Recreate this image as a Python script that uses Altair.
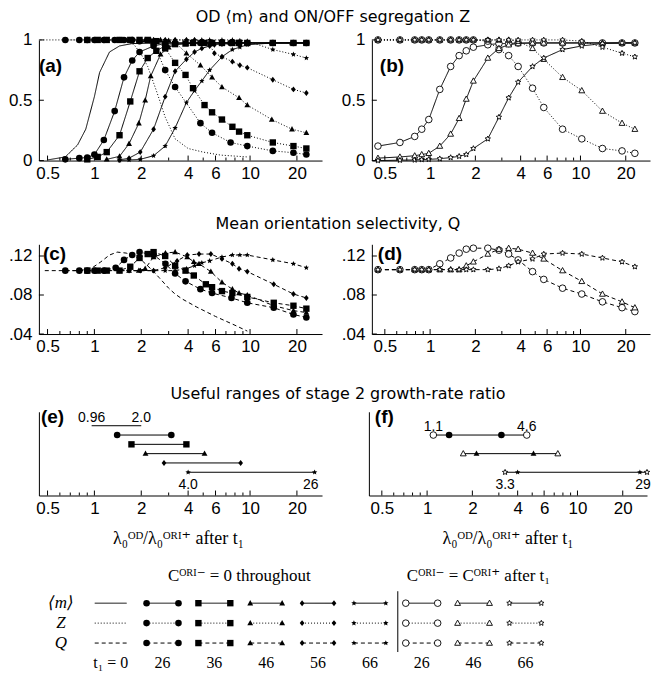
import math
import altair as alt
import pandas as pd

# ---------------- values ----------------
T1_MARKED = ["26", "36", "46", "56", "66"]

# Panel (a): <m> (solid) and Z (dotted), C^ORI- = 0 throughout
A0_M_X = [0.5, 0.65, 0.78, 0.88, 1.0, 1.08, 1.25, 1.45, 1.75, 2.5, 4, 6, 10]
A0_M_Y = [0.005, 0.03, 0.13, 0.26, 0.53, 0.73, 0.9, 0.95, 0.97, 0.975, 0.975, 0.975, 0.975]
A0_Z_X = [0.45, 0.65, 1.0, 1.4, 1.6, 1.8, 2.0, 2.2, 2.5, 2.85, 3.3, 4, 5, 6.5, 9.6]
A0_Z_Y = [1, 1, 1, 0.995, 0.99, 0.96, 0.88, 0.78, 0.58, 0.36, 0.18, 0.1, 0.07, 0.045, 0.03]

A26_X = [0.65, 0.8, 0.9, 1.0, 1.15, 1.35, 1.55, 1.75, 1.95, 2.4, 2.85, 3.3, 4.8, 5.7, 7.5, 9.6, 14, 19, 23]
A26_M = [0.01, 0.02, 0.025, 0.05, 0.17, 0.41, 0.69, 0.83, 0.9, 0.95, 0.97, 0.975, 0.975, 0.975, 0.975, 0.975, 0.975, 0.975, 0.975]
A26_Z = [1, 1, 1, 1, 1, 1, 1, 1, 0.99, 0.97, 0.75, 0.61, 0.31, 0.23, 0.15, 0.12, 0.08, 0.065, 0.05]

A36_X = [0.9, 1.05, 1.2, 1.45, 1.7, 1.95, 2.2, 2.5, 2.85, 3.3, 3.85, 4.3, 5.1, 5.7, 6.6, 7.7, 8.5, 9.6, 14, 19, 23]
A36_M = [0.01, 0.03, 0.07, 0.21, 0.49, 0.74, 0.85, 0.91, 0.95, 0.965, 0.97, 0.975, 0.975, 0.975, 0.975, 0.975, 0.975, 0.975, 0.975, 0.975, 0.975]
A36_Z = [1, 1, 1, 1, 1, 1, 1, 0.99, 0.93, 0.81, 0.71, 0.6, 0.46, 0.4, 0.34, 0.28, 0.24, 0.21, 0.15, 0.12, 0.1]

A46_X = [1.2, 1.45, 1.67, 1.93, 2.12, 2.3, 2.66, 3.0, 3.3, 3.9, 4.8, 5.7, 6.6, 8.5, 9.6, 13.8, 18.6, 23]
A46_M = [0.01, 0.035, 0.14, 0.31, 0.5, 0.7, 0.88, 0.94, 0.96, 0.97, 0.975, 0.975, 0.975, 0.975, 0.975, 0.975, 0.975, 0.975]
A46_Z = [1, 1, 1, 1, 1, 1, 1, 0.995, 0.98, 0.89, 0.79, 0.69, 0.61, 0.52, 0.46, 0.34, 0.26, 0.23]

A56_X = [1.45, 1.67, 1.97, 2.4, 2.85, 3.3, 3.9, 4.4, 4.9, 5.5, 5.9, 6.6, 7.7, 8.6, 9.6, 14, 19, 23]
A56_M = [0.005, 0.02, 0.07, 0.26, 0.53, 0.74, 0.84, 0.9, 0.93, 0.95, 0.96, 0.965, 0.97, 0.975, 0.975, 0.975, 0.975, 0.975]
A56_Z = [1, 1, 1, 1, 1, 1, 1, 1, 0.99, 0.96, 0.89, 0.86, 0.82, 0.79, 0.77, 0.67, 0.59, 0.56]

A66_X = [1.45, 1.67, 1.97, 2.4, 2.85, 3.3, 3.9, 4.4, 4.9, 5.5, 6.6, 7.7, 8.6, 9.6, 14, 19, 23]
A66_M = [0.0, 0.005, 0.01, 0.04, 0.12, 0.27, 0.48, 0.58, 0.66, 0.75, 0.86, 0.92, 0.94, 0.96, 0.975, 0.975, 0.975]
A66_Z = [1, 1, 1, 1, 1, 1, 1, 1, 1, 1, 1, 1, 0.995, 0.99, 0.92, 0.88, 0.85]

# Panel (c): Q (dashed)
C0_X = [0.48, 0.65, 0.8, 0.97, 1.1, 1.25, 1.4, 1.6, 1.8, 2.03, 2.3, 2.6, 3.0, 3.3, 3.66, 4.5, 6.0, 8.0, 9.6]
C0_Q = [0.105, 0.105, 0.105, 0.108, 0.114, 0.121, 0.124, 0.123, 0.12, 0.115, 0.107, 0.098, 0.087, 0.081, 0.076, 0.068, 0.058, 0.049, 0.043]
C26_X = [0.65, 0.8, 0.9, 1.0, 1.15, 1.37, 1.55, 1.75, 1.95, 2.4, 2.86, 3.3, 3.85, 4.8, 5.7, 7.6, 9.6, 14.2, 19, 23]
C26_Q = [0.105, 0.105, 0.105, 0.105, 0.105, 0.108, 0.116, 0.121, 0.124, 0.121, 0.112, 0.102, 0.094, 0.086, 0.082, 0.077, 0.072, 0.067, 0.06, 0.057]
C36_X = [0.9, 1.05, 1.2, 1.45, 1.7, 1.95, 2.2, 2.4, 2.85, 3.3, 3.85, 4.35, 5.2, 5.7, 6.6, 7.7, 9.6, 14.2, 19, 23]
C36_Q = [0.105, 0.105, 0.105, 0.105, 0.109, 0.118, 0.122, 0.124, 0.12, 0.11, 0.105, 0.1, 0.091, 0.088, 0.084, 0.082, 0.078, 0.072, 0.069, 0.066]
C46_X = [1.2, 1.45, 1.67, 1.93, 2.12, 2.4, 2.86, 3.3, 3.95, 4.35, 4.7, 5.6, 6.6, 7.7, 8.5, 9.6, 14.2, 19, 23]
C46_Q = [0.105, 0.105, 0.105, 0.105, 0.107, 0.119, 0.123, 0.124, 0.119, 0.114, 0.112, 0.104, 0.093, 0.086, 0.082, 0.08, 0.069, 0.064, 0.062]
C56_X = [1.45, 1.67, 1.97, 2.4, 2.85, 3.4, 3.95, 4.7, 5.6, 6.6, 7.7, 8.5, 9.6, 14.2, 19, 23]
C56_Q = [0.105, 0.105, 0.105, 0.105, 0.108, 0.115, 0.121, 0.122, 0.122, 0.117, 0.112, 0.107, 0.104, 0.091, 0.081, 0.077]
C66_X = [1.45, 1.67, 1.97, 2.4, 2.85, 3.3, 3.9, 4.4, 4.9, 5.5, 6.6, 7.7, 8.6, 9.6, 14, 19, 23]
C66_Q = [0.105, 0.105, 0.105, 0.105, 0.105, 0.105, 0.107, 0.11, 0.113, 0.115, 0.119, 0.121, 0.121, 0.121, 0.116, 0.112, 0.108]

# Panels (b), (d): C^ORI- = C^ORI+ after t1 (open markers)
B_X = [0.45, 0.63, 0.79, 0.88, 0.98, 1.16, 1.37, 1.56, 1.74, 1.94, 2.42, 2.87, 3.33, 3.85, 4.8, 5.7, 7.6, 10.2, 14, 18.9, 23]
B26_M = [0.12, 0.15, 0.2, 0.26, 0.34, 0.59, 0.78, 0.87, 0.91, 0.94, 0.96, 0.97, 0.97, 0.975, 0.975, 0.975, 0.975, 0.975, 0.975, 0.975, 0.975]
B26_Z = [1, 1, 1, 1, 1, 1, 1, 1, 1, 1, 0.99, 0.92, 0.87, 0.78, 0.6, 0.44, 0.26, 0.18, 0.1, 0.08, 0.06]
B46_M = [0.02, 0.03, 0.04, 0.05, 0.06, 0.12, 0.22, 0.35, 0.51, 0.66, 0.85, 0.93, 0.96, 0.97, 0.975, 0.975, 0.975, 0.975, 0.975, 0.975, 0.975]
B46_Z = [1, 1, 1, 1, 1, 1, 1, 1, 1, 1, 1, 1, 1, 0.99, 0.93, 0.84, 0.69, 0.58, 0.41, 0.31, 0.26]
B66_M = [0.0, 0.003, 0.005, 0.008, 0.01, 0.015, 0.025, 0.035, 0.05, 0.1, 0.18, 0.36, 0.52, 0.65, 0.78, 0.85, 0.92, 0.95, 0.97, 0.975, 0.975]
B66_Z = [1, 1, 1, 1, 1, 1, 1, 1, 1, 1, 1, 1, 1, 1, 1, 1, 1, 0.99, 0.94, 0.89, 0.86]
D26_Q = [0.106, 0.106, 0.106, 0.106, 0.106, 0.112, 0.118, 0.123, 0.127, 0.128, 0.128, 0.126, 0.122, 0.116, 0.104, 0.096, 0.087, 0.081, 0.073, 0.067, 0.063]
D46_Q = [0.106, 0.106, 0.106, 0.106, 0.106, 0.106, 0.106, 0.106, 0.11, 0.114, 0.122, 0.127, 0.128, 0.127, 0.123, 0.117, 0.105, 0.094, 0.081, 0.073, 0.067]
D66_Q = [0.106, 0.106, 0.106, 0.106, 0.106, 0.106, 0.106, 0.106, 0.106, 0.106, 0.106, 0.107, 0.11, 0.114, 0.117, 0.122, 0.123, 0.122, 0.118, 0.114, 0.109]

# Panel (e): useful ranges, C^ORI- = 0 throughout
E_T1 = ["0", "26", "36", "46", "56", "66"]
E_LO = [0.96, 1.4, 1.73, 2.13, 2.8, 4.0]
E_HI = [2.0, 3.12, 3.9, 5.1, 8.7, 26]
# Panel (f): useful ranges, C^ORI- = C^ORI+ after t1
F_T1 = ["26", "46", "66"]
F_OPEN_LO = [1.1, 1.74, 3.3]
F_OPEN_HI = [4.6, 7.4, 29]
F_FILL_LO = [1.4, 2.13, 4.0]
F_FILL_HI = [3.12, 5.1, 26]

# tick values
X_MAJOR = [0.5, 1, 2, 4, 6, 10, 20]
X_MINOR = [0.6, 0.7, 0.8, 0.9, 3, 5, 7, 8, 9]
Y_TICKS_MZ = [0, 0.5, 1]
Y_TICKS_Q = [0.04, 0.08, 0.12]

# legend
LEG_T1 = ["0", "26", "36", "46", "56", "66", "26", "46", "66"]
LEG_OPEN = [False, False, False, False, False, False, True, True, True]
LEG_KINDS = ["m", "Z", "Q"]
LEG_ROW_LABELS = ["⟨m⟩", "Z", "Q"]

TITLE1 = "OD ⟨m⟩ and ON/OFF segregation Z"
TITLE2 = "Mean orientation selectivity, Q"
TITLE3 = "Useful ranges of stage 2 growth-rate ratio"
XLABEL = "λ₀ᴼᴰ/λ₀ᴼᴿᴵ⁺ after t₁"
HEAD1 = "Cᴼᴿᴵ⁻ = 0 throughout"
HEAD2 = "Cᴼᴿᴵ⁻ = Cᴼᴿᴵ⁺ after t₁"

# ---------------- styles ----------------
def star_path(n=5, r_in=0.46):
    pts = []
    for k in range(2 * n):
        a = -math.pi / 2 + k * math.pi / n
        r = 1.0 if k % 2 == 0 else r_in
        pts.append(f"{r * math.cos(a):.3f},{r * math.sin(a):.3f}")
    return "M" + "L".join(pts) + "Z"

STAR = star_path()
DIAMOND = "M0,-1L0.8,0L0,1L-0.8,0Z"
TRI = "M0,-1L0.95,0.72L-0.95,0.72Z"
SHAPES = ["circle", "square", TRI, DIAMOND, STAR]
SIZE_FILLED = [44, 32, 64, 90, 105]
SIZE_OPEN = [58, 40, 80, 100, 100]
DASH_SCALE = alt.Scale(domain=["m", "Z", "Q"], range=[[1, 0], [1, 2], [4, 3]])
SANS = "Liberation Sans"
SERIF = "Liberation Serif, DejaVu Serif"

W_L, W_R, GAP, YEXT, XEXT = 284, 279, 19, 28, 25
XDOM_L = [0.44, 29]
XDOM_R = [0.41, 29]
FULLW = YEXT + W_L + GAP + YEXT + W_R
INNERW = FULLW - YEXT  # width of the non-axis rows (aligned to the plot origin)

XAX = dict(format="~g", title=None, grid=False, ticks=False, domainColor="black",
           domainWidth=1, labelFont=SANS, labelFontSize=17, labelColor="black",
           labelPadding=5, labelOverlap=False, labelFlush=False,
           minExtent=XEXT, maxExtent=XEXT)
YAX = dict(title=None, grid=False, ticks=False, domainColor="black", domainWidth=1,
           labelFont=SANS, labelFontSize=17, labelColor="black", labelPadding=7,
           labelOverlap=False, labelFlush=False, minExtent=YEXT, maxExtent=YEXT)


def add(rows, t1, kind, xs, ys):
    for i, (x, y) in enumerate(zip(xs, ys)):
        rows.append({"t1": t1, "kind": kind, "key": t1 + kind, "x": x, "y": y, "i": i})


def tag_layer(tag, tx, ty):
    return alt.Chart(pd.DataFrame({"t": [tag]})).mark_text(
        align="left", baseline="middle", font=SANS, fontSize=19, fontWeight="bold", color="black"
    ).encode(x=alt.value(tx), y=alt.value(ty), text="t:N")


def marker_mark(data, open_mk):
    if open_mk:
        return alt.Chart(data).mark_point(filled=True, fill="white", stroke="black",
                                          strokeWidth=0.9, opacity=1), SIZE_OPEN
    return alt.Chart(data).mark_point(filled=True, color="black", opacity=1), SIZE_FILLED


def shape_size(sizes):
    return dict(
        shape=alt.Shape("t1:N", scale=alt.Scale(domain=T1_MARKED, range=SHAPES), legend=None),
        size=alt.Size("t1:O", scale=alt.Scale(domain=T1_MARKED, range=sizes), legend=None),
    )


def x_ticks(XE, h):
    tmaj = alt.Chart(pd.DataFrame({"v": X_MAJOR})).mark_rule(color="black", strokeWidth=1).encode(
        x=XE("v:Q"), y=alt.value(h), y2=alt.value(h - 5))
    tmin = alt.Chart(pd.DataFrame({"v": X_MINOR})).mark_rule(color="black", strokeWidth=1).encode(
        x=XE("v:Q"), y=alt.value(h), y2=alt.value(h - 3))
    return [tmaj, tmin]


def curve_panel(df, xdom, ydom, yvals, ylabexpr, tag, txy, open_mk, w, h):
    xsc = alt.Scale(type="log", domain=xdom, nice=False)
    ysc = alt.Scale(domain=ydom, nice=False, zero=False)
    xax = alt.Axis(values=X_MAJOR, **XAX)
    yax = alt.Axis(values=yvals, labelExpr=ylabexpr, **YAX)
    XE = lambda f: alt.X(f, scale=xsc, axis=xax)
    YE = lambda f: alt.Y(f, scale=ysc, axis=yax)
    lines = alt.Chart(df).mark_line(color="black", strokeWidth=1).encode(
        x=XE("x:Q"), y=YE("y:Q"), detail="key:N",
        strokeDash=alt.StrokeDash("kind:N", scale=DASH_SCALE, legend=None),
        order="i:Q",
    )
    pm, sizes = marker_mark(df[df["t1"] != "0"], open_mk)
    pts = pm.encode(x=XE("x:Q"), y=YE("y:Q"), **shape_size(sizes))
    ytk = alt.Chart(pd.DataFrame({"v": yvals})).mark_rule(color="black", strokeWidth=1).encode(
        x=alt.value(0), x2=alt.value(5), y=YE("v:Q"))
    layers = [lines, pts] + x_ticks(XE, h) + [ytk, tag_layer(tag, *txy)]
    return alt.layer(*layers).properties(width=w, height=h)


ROW_OF = {t: 7.5 - k for k, t in enumerate(E_T1)}


def range_panel(seg_df, mk_df, lab_df, xdom, tag, txy, w, h):
    xsc = alt.Scale(type="log", domain=xdom, nice=False)
    ysc = alt.Scale(domain=[0, 9], nice=False, zero=False)
    xax = alt.Axis(values=X_MAJOR, **XAX)
    yax = alt.Axis(labels=False, ticks=False, grid=False, title=None, domainColor="black",
                   domainWidth=1, minExtent=YEXT, maxExtent=YEXT)
    XE = lambda f: alt.X(f, scale=xsc, axis=xax)
    YE = lambda f: alt.Y(f, scale=ysc, axis=yax)
    segs = alt.Chart(seg_df).mark_rule(color="black", strokeWidth=1).encode(
        x=XE("lo:Q"), x2="hi:Q", y=YE("row:Q"))
    layers = [segs]
    for open_mk in (True, False):
        sub = mk_df[mk_df["open"] == open_mk]
        if len(sub) == 0:
            continue
        pm, sizes = marker_mark(sub, open_mk)
        layers.append(pm.encode(x=XE("x:Q"), y=YE("row:Q"), **shape_size(sizes)))
    for pos, dy in (("above", -8), ("below", 13)):
        sub = lab_df[lab_df["pos"] == pos]
        for side, dx in (("lo", 0), ("hi", -4)):
            layers.append(alt.Chart(sub[sub["side"] == side]).mark_text(
                font=SANS, fontSize=14, color="black", baseline="middle", dy=dy, dx=dx
            ).encode(x=XE("x:Q"), y=YE("row:Q"), text="t:N"))
    layers += x_ticks(XE, h)
    layers.append(tag_layer(tag, *txy))
    return alt.layer(*layers).properties(width=w, height=h)


def title_chart(text, h, ty, tx):
    return alt.Chart(pd.DataFrame({"t": [text]})).mark_text(
        font="DejaVu Sans", fontSize=16, color="black", align="center", baseline="middle"
    ).encode(x=alt.value(tx), y=alt.value(ty), text="t:N").properties(width=INNERW, height=h)


# ---------------- build data tables ----------------
ra = []
add(ra, "0", "m", A0_M_X, A0_M_Y)
add(ra, "0", "Z", A0_Z_X, A0_Z_Y)
for t1, (xs, ms, zs) in {"26": (A26_X, A26_M, A26_Z), "36": (A36_X, A36_M, A36_Z),
                         "46": (A46_X, A46_M, A46_Z), "56": (A56_X, A56_M, A56_Z),
                         "66": (A66_X, A66_M, A66_Z)}.items():
    add(ra, t1, "m", xs, ms)
    add(ra, t1, "Z", xs, zs)
df_a = pd.DataFrame(ra)

rc = []
add(rc, "0", "Q", C0_X, C0_Q)
for t1, (xs, qs) in {"26": (C26_X, C26_Q), "36": (C36_X, C36_Q), "46": (C46_X, C46_Q),
                     "56": (C56_X, C56_Q), "66": (C66_X, C66_Q)}.items():
    add(rc, t1, "Q", xs, qs)
df_c = pd.DataFrame(rc)

rb, rd = [], []
for t1, (ms, zs, qs) in {"26": (B26_M, B26_Z, D26_Q), "46": (B46_M, B46_Z, D46_Q),
                         "66": (B66_M, B66_Z, D66_Q)}.items():
    add(rb, t1, "m", B_X, ms)
    add(rb, t1, "Z", B_X, zs)
    add(rd, t1, "Q", B_X, qs)
df_b = pd.DataFrame(rb)
df_d = pd.DataFrame(rd)


def end_labels(t1s, los, his, fmt_lo, fmt_hi):
    return [
        {"x": los[0], "row": ROW_OF[t1s[0]], "t": fmt_lo(los[0]), "pos": "above", "side": "lo"},
        {"x": his[0], "row": ROW_OF[t1s[0]], "t": fmt_hi(his[0]), "pos": "above", "side": "lo"},
        {"x": los[-1], "row": ROW_OF[t1s[-1]], "t": fmt_lo(los[-1]), "pos": "below", "side": "lo"},
        {"x": his[-1], "row": ROW_OF[t1s[-1]], "t": f"{his[-1]:g}", "pos": "below", "side": "hi"},
    ]


e_seg = pd.DataFrame({"lo": E_LO, "hi": E_HI, "row": [ROW_OF[t] for t in E_T1]})
e_mk = pd.DataFrame([{"x": x, "row": ROW_OF[t], "t1": t, "open": False}
                     for t, lo, hi in zip(E_T1, E_LO, E_HI) if t != "0" for x in (lo, hi)])
e_lab = pd.DataFrame(end_labels(E_T1, E_LO, E_HI, lambda v: f"{v:.2g}" if v < 1 else f"{v:.1f}",
                                lambda v: f"{v:.1f}"))
f_seg = pd.DataFrame({"lo": F_OPEN_LO, "hi": F_OPEN_HI, "row": [ROW_OF[t] for t in F_T1]})
f_mk = pd.DataFrame(
    [{"x": x, "row": ROW_OF[t], "t1": t, "open": True}
     for t, lo, hi in zip(F_T1, F_OPEN_LO, F_OPEN_HI) for x in (lo, hi)] +
    [{"x": x, "row": ROW_OF[t], "t1": t, "open": False}
     for t, lo, hi in zip(F_T1, F_FILL_LO, F_FILL_HI) for x in (lo, hi)])
f_lab = pd.DataFrame(end_labels(F_T1, F_OPEN_LO, F_OPEN_HI, lambda v: f"{v:.1f}", lambda v: f"{v:.1f}"))

# ---------------- panels ----------------
H1, H2, H3 = 121, 90, 84
MZ_LAB = "format(datum.value, '~g')"
Q_LAB = "replace(format(datum.value, '.2f'), '0.', '.')"
pa = curve_panel(df_a, XDOM_L, [0, 1], Y_TICKS_MZ, MZ_LAB, "(a)", (0, 26), False, W_L, H1)
pb = curve_panel(df_b, XDOM_R, [0, 1], Y_TICKS_MZ, MZ_LAB, "(b)", (8, 26), True, W_R, H1)
pc = curve_panel(df_c, XDOM_L, [0.04, 0.132], Y_TICKS_Q, Q_LAB, "(c)", (4, 10), False, W_L, H2)
pdd = curve_panel(df_d, XDOM_R, [0.04, 0.132], Y_TICKS_Q, Q_LAB, "(d)", (6, 10), True, W_R, H2)
pe = range_panel(e_seg, e_mk, e_lab, XDOM_L, "(e)", (2, 5), W_L, H3)
pf = range_panel(f_seg, f_mk, f_lab, XDOM_R, "(f)", (6, 5), W_R, H3)

# ---------------- legend (origin = left edge of the plot areas) ----------------
LW, LH = INNERW, 150
COL0, COLSTEP, SEGLEN = 56, 52, 32
ROW0, ROWSTEP = 83, 20
lsc_x = alt.Scale(domain=[0, LW], range=[0, LW], nice=False, zero=False)
lsc_y = alt.Scale(domain=[0, LH], range=[0, LH], nice=False, zero=False)
LX = lambda f: alt.X(f, scale=lsc_x, axis=None)
LY = lambda f: alt.Y(f, scale=lsc_y, axis=None)

seg_rows, mk_rows = [], []
for c, (t1, op) in enumerate(zip(LEG_T1, LEG_OPEN)):
    x0 = COL0 + COLSTEP * c
    x1 = x0 + SEGLEN
    for r, kind in enumerate(LEG_KINDS):
        y = ROW0 + ROWSTEP * r
        seg_rows.append({"x": x0, "x2": x1, "y": y, "kind": kind})
        if t1 != "0":
            for xx in (x0, x1):
                mk_rows.append({"x": xx, "y": y, "t1": t1, "open": op})
leg_seg = pd.DataFrame(seg_rows)
leg_mk = pd.DataFrame(mk_rows)

leg_layers = [alt.Chart(leg_seg).mark_rule(color="black", strokeWidth=1).encode(
    x=LX("x:Q"), x2="x2:Q", y=LY("y:Q"),
    strokeDash=alt.StrokeDash("kind:N", scale=DASH_SCALE, legend=None))]
for op in (False, True):
    pm, sizes = marker_mark(leg_mk[leg_mk["open"] == op], op)
    leg_layers.append(pm.encode(x=LX("x:Q"), y=LY("y:Q"), **shape_size(sizes)))

sep_x = COL0 + COLSTEP * 6 - 8
leg_layers.append(alt.Chart(pd.DataFrame({"x": [sep_x], "y": [ROW0 - 12], "y2": [ROW0 + 2 * ROWSTEP + 9]})).mark_rule(
    color="black", strokeWidth=1).encode(x=LX("x:Q"), y=LY("y:Q"), y2="y2:Q"))

left_c = W_L / 2
right_c = W_L + GAP + YEXT + W_R / 2
xlab_df = pd.DataFrame({"x": [left_c - 2, right_c], "y": [19, 19], "t": [XLABEL, XLABEL]})
leg_layers.append(alt.Chart(xlab_df).mark_text(font=SERIF, fontSize=18, color="black", baseline="middle").encode(
    x=LX("x:Q"), y=LY("y:Q"), text="t:N"))
head_df = pd.DataFrame({"x": [201, 441], "y": [56, 56], "t": [HEAD1, HEAD2]})
leg_layers.append(alt.Chart(head_df).mark_text(font=SERIF, fontSize=17, color="black", baseline="middle").encode(
    x=LX("x:Q"), y=LY("y:Q"), text="t:N"))
texts_rows = pd.DataFrame({"x": [22] * 3, "y": [ROW0 + ROWSTEP * r for r in range(3)], "t": LEG_ROW_LABELS})
leg_layers.append(alt.Chart(texts_rows).mark_text(font=SERIF, fontSize=17, fontStyle="italic", color="black",
                                                  baseline="middle").encode(
    x=LX("x:Q"), y=LY("y:Q"), text="t:N"))
bottom_txt = ["t₁ = 0" if t == "0" else t for t in LEG_T1]
texts_bot = pd.DataFrame({"x": [COL0 + COLSTEP * c + SEGLEN / 2 for c in range(len(LEG_T1))],
                          "y": [143] * len(LEG_T1), "t": bottom_txt})
leg_layers.append(alt.Chart(texts_bot).mark_text(font=SERIF, fontSize=16, color="black", baseline="middle").encode(
    x=LX("x:Q"), y=LY("y:Q"), text="t:N"))

legend = alt.layer(*leg_layers).properties(width=LW, height=LH)

# ---------------- assemble ----------------
row1 = alt.hconcat(pa, pb, spacing=GAP)
row2 = alt.hconcat(pc, pdd, spacing=GAP)
row3 = alt.hconcat(pe, pf, spacing=GAP)

chart = alt.vconcat(
    row1,
    title_chart(TITLE2, 57, 39, 300),
    row2,
    title_chart(TITLE3, 49, 35, 300),
    row3,
    legend,
    spacing=0,
    title=alt.TitleParams(TITLE1, font="DejaVu Sans", fontSize=16, fontWeight="normal", color="black",
                          anchor="middle", frame="bounds", offset=6, dx=3),
).properties(padding=0, background="white").configure_view(stroke=None)

chart.save("out.html", embed_options={"renderer": "svg", "actions": False})
